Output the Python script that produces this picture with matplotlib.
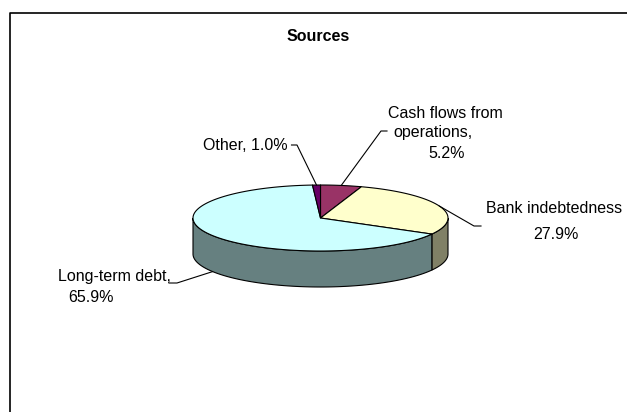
import numpy as np
import matplotlib.pyplot as plt
from matplotlib.patches import Polygon

plt.rcParams['font.family'] = ['Liberation Sans', 'DejaVu Sans']

# slices in clockwise order starting at 12 o'clock
sources = ["Cash flows from operations", "Bank indebtedness", "Long-term debt", "Other"]
shares = [5.2, 27.9, 65.9, 1.0]
top_colors = ["#993366", "#FFFFCC", "#CCFFFF", "#660066"]

# pie geometry in pixel units (y grows downward)
cx, cy = 320.5, 218.0
rx, ry = 127.5, 33.0
depth = 36.0


def rim(theta):
    t = np.radians(theta)
    return cx + rx * np.sin(t), cy - ry * np.cos(t)


def darker(hexcol, f=0.5):
    r, g, b = (int(hexcol[i:i + 2], 16) for i in (1, 3, 5))
    return (r * f / 255, g * f / 255, b * f / 255)


fig = plt.figure(figsize=(6.27, 4.12), dpi=100)
ax = fig.add_axes([0, 0, 1, 1])
ax.set_xlim(0, 627)
ax.set_ylim(412, 0)
ax.axis('off')

# chart frame (runs off the right and bottom edges)
ax.plot([9.5, 9.5, 700], [500, 12.5, 12.5], color='black', lw=1.2)

ax.text(318, 36, "Sources", ha='center', va='center', fontsize=11.5, fontweight='bold')

bounds = np.concatenate([[0], np.cumsum(shares) / 100 * 360])

# outer walls on the front half
for i, col in enumerate(top_colors):
    lo, hi = max(bounds[i], 90), min(bounds[i + 1], 270)
    if hi <= lo:
        continue
    t = np.linspace(lo, hi, 120)
    x, y = rim(t)
    pts = np.column_stack([np.r_[x, x[::-1]], np.r_[y, y[::-1] + depth]])
    ax.add_patch(Polygon(pts, closed=True, fc=darker(col), ec='black', lw=0.8))

# top faces
for i, col in enumerate(top_colors):
    t = np.linspace(bounds[i], bounds[i + 1], 200)
    x, y = rim(t)
    pts = np.column_stack([np.r_[cx, x], np.r_[cy, y]])
    ax.add_patch(Polygon(pts, closed=True, fc=col, ec='black', lw=0.8, joinstyle='round'))


def anchor(i):
    mid = (bounds[i] + bounds[i + 1]) / 2
    x, y = rim(mid)
    if 90 < mid < 270:
        y += depth
    return x, y


lab = dict(fontsize=11.5, va='baseline')

# Cash flows from operations
ax.text(445, 117.5, "Cash flows from", ha='center', **lab)
ax.text(433, 137.5, "operations,", ha='center', **lab)
ax.text(447, 157.5, f"{shares[0]:.1f}%", ha='center', **lab)
ax0 = anchor(0)
ax.plot([387, 381, ax0[0]], [131, 131, ax0[1]], color='black', lw=0.8)

# Bank indebtedness
ax.text(554, 212.5, sources[1], ha='center', **lab)
ax.text(555.5, 238.5, f"{shares[1]:.1f}%", ha='center', **lab)
a1 = anchor(1)
ax.plot([481, 474, a1[0]], [226, 226, a1[1]], color='black', lw=0.8)

# Long-term debt
ax.text(58, 281.5, sources[2] + ",", ha='left', **lab)
ax.text(68, 301.5, f"{shares[2]:.1f}%", ha='left', **lab)
a2 = anchor(2)
ax.plot([169, 177, a2[0]], [283, 283, a2[1]], color='black', lw=0.8)

# Other
ax.text(288, 150.5, f"{sources[3]}, {shares[3]:.1f}%", ha='right', **lab)
a3 = anchor(3)
ax.plot([291.5, 297, a3[0]], [145, 145, a3[1]], color='black', lw=0.8)

fig.savefig("out.png", dpi=100)
